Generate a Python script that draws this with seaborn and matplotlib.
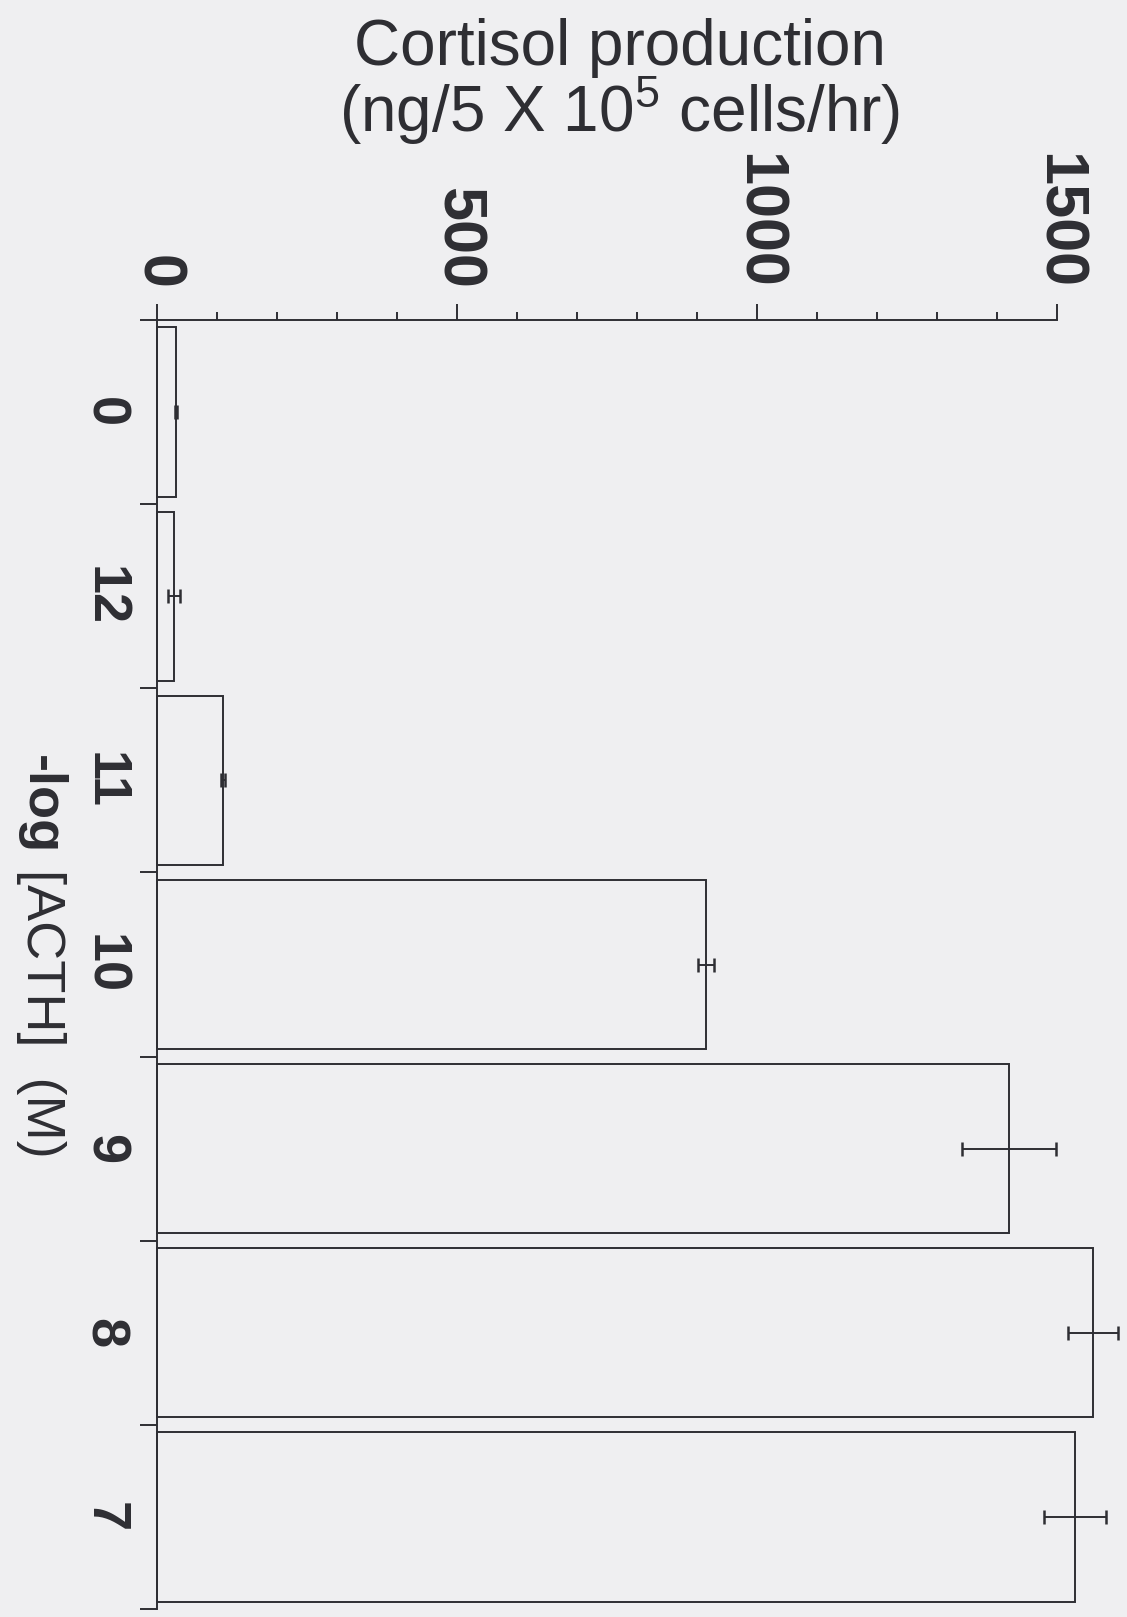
import numpy as np
import pandas as pd
import matplotlib
matplotlib.use('Agg')
import matplotlib.pyplot as plt
import seaborn as sns

# -- data --
acth_dose = ['0', '12', '11', '10', '9', '8', '7']
cortisol = [32, 29, 110, 915, 1420, 1560, 1530]
cortisol_err = [2, 10, 3, 14, 78, 42, 51]
value_ticks = [0, 500, 1000, 1500]

df = pd.DataFrame({'dose': acth_dose, 'cortisol': cortisol, 'err': cortisol_err})

sns.set_style('white')
plt.rcParams['font.family'] = ['Liberation Sans', 'DejaVu Sans']
plt.rcParams['mathtext.default'] = 'regular'

ink = '#2e2e33'
bg = '#efeff1'
W, H = 1127, 1617

fig = plt.figure(figsize=(W / 100, H / 100), dpi=100, facecolor=bg)
ax = fig.add_axes([157 / W, 8 / H, 900 / W, 1289 / H])
ax.set_facecolor(bg)

sns.barplot(data=df, x='cortisol', y='dose', order=acth_dose, orient='h',
            width=0.92, color=bg, edgecolor=ink, linewidth=1.4, errorbar=None, ax=ax)
for p in ax.patches:
    p.set_facecolor(bg)
    p.set_clip_on(False)

eb = ax.errorbar(df['cortisol'], np.arange(len(df)), xerr=df['err'], fmt='none',
                 ecolor=ink, elinewidth=1.4, capsize=4.7, capthick=1.8)
for part in eb.get_children():
    part.set_clip_on(False)

# value axis on top
ax.set_xlim(0, 1500)
ax.set_ylim(len(df) - 0.5, -0.5)
ax.xaxis.tick_top()
ax.set_xticks(value_ticks)
ax.set_xticks(np.arange(0, 1501, 100), minor=True)
ax.tick_params(axis='x', which='major', top=True, direction='out', length=11.5, width=1.4,
               color=ink, pad=11, labelsize=44, labelcolor=ink, labelrotation=-90)
ax.tick_params(axis='x', which='minor', top=True, direction='out', length=6, width=1.4, color=ink)
for lbl in ax.get_xticklabels():
    lbl.set_fontweight('bold')

# category axis on the left, ticks mark the category boundaries
ax.set_yticks(np.arange(-0.5, len(df), 1), minor=True)
ax.tick_params(axis='y', which='major', left=True, length=0, pad=20, labelsize=39,
               labelcolor=ink, labelrotation=-90)
ax.tick_params(axis='y', which='minor', left=True, direction='out', length=12, width=1.4,
               color=ink)
for lbl in ax.get_yticklabels():
    lbl.set_fontweight('bold')
    lbl.set_va('center')
    lbl.set_ha('right')

ax.set_xlabel('')
ax.set_ylabel('')
for side in ['right', 'bottom']:
    ax.spines[side].set_visible(False)
for side in ['top', 'left']:
    ax.spines[side].set_color(ink)
    ax.spines[side].set_linewidth(1.4)

# axis titles
fig.text(620 / W, 1 - 65 / H, 'Cortisol production', ha='center', va='baseline',
         fontsize=46, color=ink)
fig.text(620 / W, 1 - 132 / H, '(ng/5 X 10$^5$ cells/hr)', ha='center', va='baseline',
         fontsize=46, color=ink)

t1 = fig.text(41 / W, 1 - 755 / H, '-log', ha='center', va='top', rotation=-90,
              fontsize=39, fontweight='bold', color=ink)
ax.annotate(' [ACTH]  (M)', xy=(0.5, 0), xycoords=t1, ha='center', va='top',
            rotation=-90, fontsize=39, color=ink, annotation_clip=False)

fig.savefig('out.png', dpi=100, facecolor=bg)
